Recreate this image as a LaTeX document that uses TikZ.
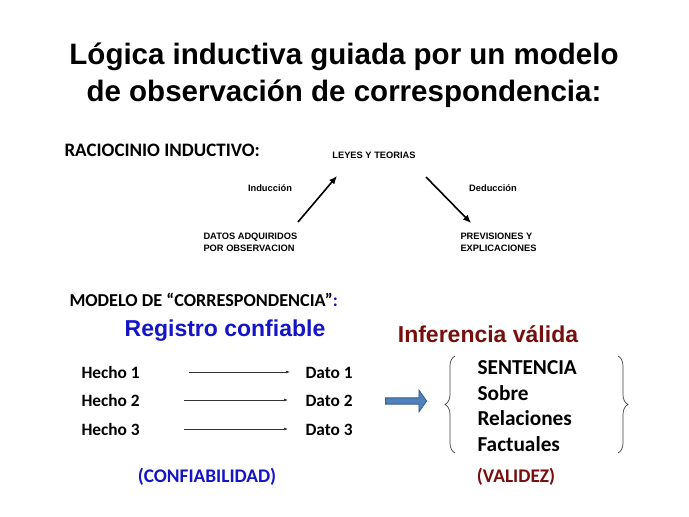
\documentclass[tikz,border=0pt]{standalone}
\usepackage{fontspec}
\setmainfont{Liberation Sans}
\newfontfamily\calib{Carlito}
\usetikzlibrary{decorations.pathreplacing,shapes.arrows,arrows.meta}
\definecolor{regblue}{RGB}{20,20,200}
\definecolor{infred}{RGB}{120,15,15}
\definecolor{arrblue}{RGB}{79,129,189}
\definecolor{arrline}{RGB}{56,93,138}
\begin{document}
\begin{tikzpicture}[x=1pt,y=-1pt,
  title/.style={font=\fontsize{29.5}{37}\selectfont\bfseries, align=center},
  head/.style={font=\calib\fontsize{19}{22}\selectfont\bfseries, anchor=west},
  small/.style={font=\fontsize{9.3}{12}\selectfont\bfseries, align=left},
  rowtxt/.style={font=\calib\fontsize{17.3}{20}\selectfont\bfseries, anchor=base west},
  big/.style={font=\fontsize{23}{27}\selectfont\bfseries},
  sent/.style={font=\calib\fontsize{21.3}{25.5}\selectfont\bfseries, align=left, anchor=west},
  thin/.style={-{Latex[length=4pt,width=3pt]}, line width=0.6pt, draw=black!80},
  thick/.style={-{Latex[length=8pt,width=7pt]}, line width=1.6pt},
  brace/.style={decorate, decoration={brace, amplitude=10pt}, line width=0.7pt, draw=black!75}]
\useasboundingbox[fill=white] (0,0) rectangle (689,517);
\node[title] (t) at (344,75) {Lógica inductiva guiada por un modelo\\de observación de correspondencia:};
\node[head] (rac) at (61,150) {RACIOCINIO INDUCTIVO:};
\node[small] (leyes) at (374,155) {LEYES Y TEORIAS};
\node[small] (ind) at (270,188) {Inducción};
\node[small] (ded) at (493,188) {Deducción};
\node[small, anchor=west] (datos) at (200,242) {DATOS ADQUIRIDOS\\POR OBSERVACION};
\node[small, anchor=west] (prev) at (457,242) {PREVISIONES Y\\EXPLICACIONES};
\coordinate (a1s) at (298,222);
\coordinate (a1e) at (337,176);
\coordinate (a2s) at (426,177);
\coordinate (a2e) at (471,223);
\draw[thick] (a1s) -- (a1e);
\draw[thick] (a2s) -- (a2e);
\node[head, font=\calib\fontsize{18.2}{21}\selectfont\bfseries] (mod) at (66,300) {MODELO DE “CORRESPONDENCIA”\textcolor{regblue}{:}};
\node[big, text=regblue] (reg) at (225,331) {Registro confiable};
\node[big, text=infred] (inf) at (488,334) {Inferencia válida};
\node[rowtxt] (h1) at (78,378) {Hecho 1};
\node[rowtxt] (h2) at (78,406) {Hecho 2};
\node[rowtxt] (h3) at (78,435) {Hecho 3};
\node[rowtxt] (d1) at (302,378) {Dato 1};
\node[rowtxt] (d2) at (302,406) {Dato 2};
\node[rowtxt] (d3) at (302,435) {Dato 3};
\coordinate (r1s) at (189,372); \coordinate (r1e) at (290,372);
\coordinate (r2s) at (184,400); \coordinate (r2e) at (288,400);
\coordinate (r3s) at (184,429); \coordinate (r3e) at (288,429);
\draw[thin] (r1s) -- (r1e);
\draw[thin] (r2s) -- (r2e);
\draw[thin] (r3s) -- (r3e);
\node[single arrow, draw=arrline, fill=arrblue, line width=0.8pt, minimum height=41pt, minimum width=22pt, single arrow head extend=1pt, single arrow tip angle=110, inner sep=0pt, text width=12pt] (blk) at (405,401) {};
\coordinate (lb1) at (455,453); \coordinate (lb2) at (455,356);
\coordinate (rb1) at (618,356); \coordinate (rb2) at (618,453);
\draw[brace] (lb1) -- (lb2);
\draw[brace] (rb1) -- (rb2);
\node[sent] (s) at (474,406) {SENTENCIA\\Sobre\\Relaciones\\Factuales};
\node[font=\calib\fontsize{19.3}{22}\selectfont\bfseries, text=regblue] (conf) at (207,477) {(CONFIABILIDAD)};
\node[font=\calib\fontsize{19.3}{22}\selectfont\bfseries, text=infred] (val) at (516,477) {(VALIDEZ)};
\end{tikzpicture}
\end{document}
